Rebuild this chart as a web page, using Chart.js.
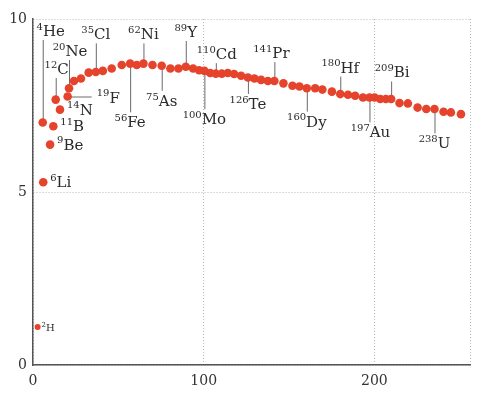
<!DOCTYPE html>
<html>
<head>
<meta charset="utf-8">
<script src="https://cdn.jsdelivr.net/npm/chart.js@4"></script>
<style>
  body { margin: 0; background: #fff; }
</style>
</head>
<body>
<canvas id="myChart" width="483" height="394"></canvas>
<script>
// mass number A and binding energy per nucleon (MeV)
var massNumber = [2.7, 5.7, 6.0, 10.0, 11.9, 13.3, 15.8, 20.3, 21.1, 24.0,
  28.1, 32.6, 36.8, 40.9, 46.1, 52.0, 56.9, 60.8, 64.7, 70.0,
  75.4, 80.5, 85.2, 89.5, 93.8, 97.3, 100.4, 103.8, 107.1, 110.6,
  114.1, 117.8, 121.9, 125.9, 129.7, 133.6, 137.6, 141.4, 146.7, 152.0,
  156.1, 160.4, 165.3, 169.5, 175.1, 180.0, 184.5, 188.7, 193.3, 197.1,
  200.1, 203.4, 206.7, 209.8, 214.7, 219.6, 225.3, 230.4, 235.2, 240.5,
  244.8, 250.7];
var bindingEnergy = [1.1, 7.01, 5.28, 6.37, 6.90, 7.67, 7.38, 7.76, 8.00, 8.21,
  8.28, 8.45, 8.47, 8.50, 8.57, 8.67, 8.71, 8.67, 8.71, 8.67,
  8.65, 8.57, 8.57, 8.62, 8.57, 8.52, 8.50, 8.44, 8.42, 8.42,
  8.44, 8.41, 8.36, 8.31, 8.28, 8.24, 8.21, 8.21, 8.14, 8.07,
  8.05, 8.00, 8.00, 7.96, 7.90, 7.83, 7.81, 7.78, 7.73, 7.73,
  7.73, 7.69, 7.69, 7.69, 7.57, 7.56, 7.44, 7.40, 7.40, 7.32,
  7.30, 7.25];

// isotope names and which point they belong to
var isoPoint = [0, 1, 2, 3, 4, 5, 6, 7, 8, 12, 16, 18, 20, 23, 26, 28, 33, 37, 41, 45, 49, 53, 58];
var isoMass  = ["2", "4", "6", "9", "11", "12", "14", "19", "20", "35", "56", "62", "75", "89", "100", "110", "126", "141", "160", "180", "197", "209", "238"];
var isoSym   = ["H", "He", "Li", "Be", "B", "C", "N", "F", "Ne", "Cl", "Fe", "Ni", "As", "Y", "Mo", "Cd", "Te", "Pr", "Dy", "Hf", "Au", "Bi", "U"];

var xTicks = [0, 100, 200];
var yTicks = [0, 5, 10];

// label placement: side, text baseline (in MeV) for up/down, x nudge in px
var isoPlace = [
  ["small"], ["up", 9.51, 8], ["right"], ["right"], ["right"], ["up", 8.41, 1],
  ["right"], ["line"], ["up", 8.93, 1], ["up", 9.41, 0], ["down", 6.87, 0],
  ["up", 9.41, 0], ["down", 7.49, 0], ["up", 9.48, 0], ["down", 6.96, 0],
  ["up", 8.84, 1], ["down", 7.40, 0], ["up", 8.87, -3], ["down", 6.89, 0],
  ["up", 8.45, 0], ["down", 6.58, 1], ["up", 8.31, 1], ["down", 6.26, 0]
];

var serif = "'DejaVu Serif', serif";
var radii = massNumber.map(function (a, i) { return i === 0 ? 3 : 4.3; });

function isoWidth(ctx, m, s, big, small) {
  ctx.font = small + "px " + serif;
  var w1 = ctx.measureText(m).width;
  ctx.font = big + "px " + serif;
  return w1 + ctx.measureText(s).width;
}
function drawIso(ctx, m, s, x, y, big, small) {
  ctx.textAlign = "left";
  ctx.textBaseline = "alphabetic";
  ctx.font = small + "px " + serif;
  ctx.fillText(m, x, y - big * 0.42);
  var w1 = ctx.measureText(m).width;
  ctx.font = big + "px " + serif;
  ctx.fillText(s, x + w1, y);
}

var isoPlugin = {
  id: "iso",
  beforeDatasetsDraw: function (chart) {
    var ctx = chart.ctx, xs = chart.scales.x, ys = chart.scales.y;
    ctx.save();
    ctx.strokeStyle = "#6a6a6a";
    ctx.lineWidth = 1;
    isoPoint.forEach(function (p, k) {
      var pl = isoPlace[k];
      var px = xs.getPixelForValue(massNumber[p]);
      var py = ys.getPixelForValue(bindingEnergy[p]);
      ctx.beginPath();
      if (pl[0] === "up") {
        ctx.moveTo(px + 0.5, py);
        ctx.lineTo(px + 0.5, ys.getPixelForValue(pl[1]) + 4);
      } else if (pl[0] === "down") {
        ctx.moveTo(px + 0.5, py);
        ctx.lineTo(px + 0.5, ys.getPixelForValue(pl[1]) - 15);
      } else if (pl[0] === "line") {
        ctx.moveTo(px, py + 0.5);
        ctx.lineTo(px + 24, py + 0.5);
      } else {
        return;
      }
      ctx.stroke();
    });
    ctx.restore();
  },
  afterDatasetsDraw: function (chart) {
    var ctx = chart.ctx, xs = chart.scales.x, ys = chart.scales.y;
    ctx.save();
    ctx.fillStyle = "#2a2a2a";
    isoPoint.forEach(function (p, k) {
      var pl = isoPlace[k];
      var px = xs.getPixelForValue(massNumber[p]);
      var py = ys.getPixelForValue(bindingEnergy[p]);
      var m = isoMass[k], s = isoSym[k];
      if (pl[0] === "up" || pl[0] === "down") {
        var w = isoWidth(ctx, m, s, 15, 10);
        drawIso(ctx, m, s, px + pl[2] - w / 2, ys.getPixelForValue(pl[1]), 15, 10);
      } else if (pl[0] === "right") {
        drawIso(ctx, m, s, px + 7, py + 5, 15, 10);
      } else if (pl[0] === "line") {
        drawIso(ctx, m, s, px + 29, py + 6, 15, 10);
      } else {
        drawIso(ctx, m, s, px + 4, py + 4, 10, 7);
      }
    });
    ctx.restore();
  }
};

new Chart("myChart", {
  type: "scatter",
  data: {
    datasets: [{
      data: massNumber.map(function (a, i) { return { x: a, y: bindingEnergy[i] }; }),
      backgroundColor: "#e5432b",
      borderWidth: 0,
      pointRadius: radii,
      pointHoverRadius: radii
    }]
  },
  options: {
    responsive: false,
    animation: false,
    events: [],
    layout: { padding: { top: 19, right: 13, left: 0, bottom: 0 } },
    plugins: { legend: { display: false }, tooltip: { enabled: false } },
    scales: {
      x: {
        type: "linear",
        min: 0,
        max: 256,
        afterBuildTicks: function (scale) {
          scale.ticks = xTicks.concat([256]).map(function (v) { return { value: v }; });
        },
        afterFit: function (scale) { scale.height = 29; },
        ticks: {
          padding: 8,
          color: "#333",
          font: { family: serif, size: 14 },
          maxRotation: 0,
          callback: function (v) { return xTicks.indexOf(v) >= 0 ? String(v) : ""; }
        },
        grid: { color: "#b8b8b8", lineWidth: 1, drawTicks: false },
        border: { color: "#555", width: 1.5, dash: [1, 2] }
      },
      y: {
        min: 0,
        max: 10,
        afterBuildTicks: function (scale) {
          scale.ticks = yTicks.map(function (v) { return { value: v }; });
        },
        afterFit: function (scale) { scale.width = 33; },
        ticks: {
          padding: 6,
          color: "#333",
          font: { family: serif, size: 14 }
        },
        grid: { color: "#b8b8b8", lineWidth: 1, drawTicks: false },
        border: { color: "#555", width: 1.5, dash: [1, 2] }
      }
    }
  },
  plugins: [isoPlugin]
});
</script>
</body>
</html>
